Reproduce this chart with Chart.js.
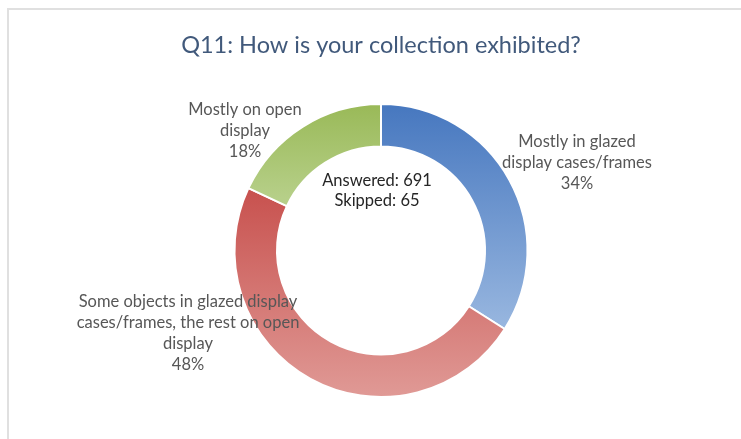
<!DOCTYPE html>
<html>
<head>
<meta charset="utf-8">
<script src="https://cdn.jsdelivr.net/npm/chart.js@4.4.0/dist/chart.umd.min.js"></script>
<style>
  html, body { margin: 0; padding: 0; background: #fff; }
  #wrap { position: relative; width: 741px; height: 439px; overflow: hidden; }
  #frame { position: absolute; left: 7px; top: 8px; width: 780px; height: 480px; border: 2px solid #e0e0e0; }
  canvas { position: absolute; left: 0; top: 0; }
</style>
</head>
<body>
<div id="wrap">
  <div id="frame"></div>
  <canvas id="exhibit-chart" width="741" height="439"></canvas>
</div>
<script>
const titleText = 'Q11: How is your collection exhibited?';
const categories = [
    'Mostly in glazed display cases/frames',
    'Some objects in glazed display cases/frames, the rest on open display',
    'Mostly on open display'
];
// wrapped label lines, as shown next to each slice
const labelLines = [
    ['Mostly in glazed', 'display cases/frames'],
    ['Some objects in glazed display', 'cases/frames, the rest on open', 'display'],
    ['Mostly on open', 'display']
];
const percentages = [34, 48, 18];
const answered = 691;
const skipped = 65;

// vertical gradient per slice: [stop, color] pairs over the ring height
const sliceGradients = [
    [[0, '#4677bf'], [0.78, '#9ab8e0'], [1, '#a9c3e6']],
    [[0, '#c0504d'], [0.3, '#c8524f'], [1, '#e09a96']],
    [[0, '#99b957'], [0.32, '#b6cf88'], [1, '#c4d99f']]
];
// label block centres, relative to the ring centre
const labelOffsets = [[196, -88], [-193, 83], [-136, -120]];

function sliceFill(context) {
    const stops = sliceGradients[context.dataIndex];
    const area = context.chart.chartArea;
    if (!area) return stops[0][1];
    const g = context.chart.ctx.createLinearGradient(0, area.top, 0, area.bottom);
    stops.forEach(s => g.addColorStop(s[0], s[1]));
    return g;
}

const labelPlugin = {
    id: 'sliceLabels',
    afterDraw(chart) {
        const ctx = chart.ctx;
        const meta = chart.getDatasetMeta(0);
        const cx = meta.data[0].x;
        const cy = meta.data[0].y;
        const lineH = 21;
        ctx.save();
        ctx.textAlign = 'center';
        ctx.textBaseline = 'middle';

        ctx.fillStyle = '#41597b';
        ctx.font = '23.5px Lato';
        ctx.fillText(titleText, cx, 45);

        ctx.fillStyle = '#575757';
        ctx.font = '16.5px Lato';
        meta.data.forEach((arc, i) => {
            const lines = labelLines[i].concat(percentages[i] + '%');
            const x = cx + labelOffsets[i][0];
            const y0 = cy + labelOffsets[i][1] - (lines.length - 1) * lineH / 2;
            lines.forEach((t, k) => ctx.fillText(t, x, y0 + k * lineH));
        });

        ctx.fillStyle = '#262626';
        ctx.fillText('Answered: ' + answered, cx - 4, cy - 70);
        ctx.fillText('Skipped: ' + skipped, cx - 4, cy - 50);
        ctx.restore();
    }
};

const chart = new Chart(document.getElementById('exhibit-chart'), {
    type: 'doughnut',
    data: {
        labels: categories,
        datasets: [{
            data: percentages,
            backgroundColor: sliceFill,
            borderColor: '#ffffff',
            borderWidth: 2
        }]
    },
    options: {
        responsive: false,
        animation: false,
        cutout: '71%',
        layout: { padding: { top: 103, bottom: 41, left: 233, right: 212 } },
        plugins: {
            legend: { display: false },
            tooltip: { enabled: false }
        }
    },
    plugins: [labelPlugin]
});
</script>
</body>
</html>
